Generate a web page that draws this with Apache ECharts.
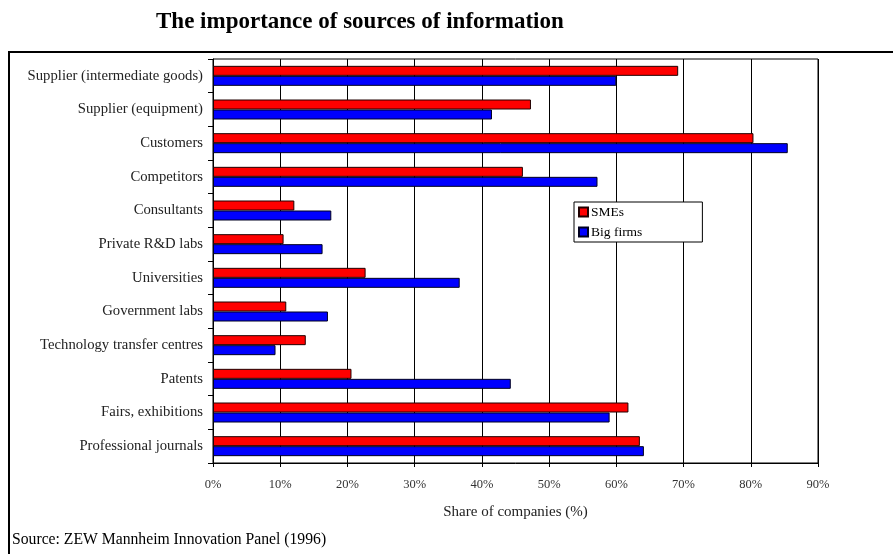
<!DOCTYPE html>
<html>
<head>
<meta charset="utf-8">
<script src="https://cdn.jsdelivr.net/npm/echarts@6/dist/echarts.min.js"></script>
<style>
  html, body { margin: 0; padding: 0; background: #fff; }
  #chart { width: 893px; height: 554px; }
</style>
</head>
<body>
<div id="chart"></div>
<script>
// Sources of information, listed top to bottom
const sources = [
  'Supplier (intermediate goods)',
  'Supplier (equipment)',
  'Customers',
  'Competitors',
  'Consultants',
  'Private R&D labs',
  'Universities',
  'Government labs',
  'Technology transfer centres',
  'Patents',
  'Fairs, exhibitions',
  'Professional journals'
];

// Share of companies (%) rating each source as important
const smes     = [69.2, 47.3, 80.4, 46.1, 12.1, 10.5, 22.7, 10.9, 13.8, 20.6, 61.8, 63.5];
const bigFirms = [60.0, 41.5, 85.5, 57.2, 17.6, 16.3, 36.7, 17.1,  9.3, 44.3, 59.0, 64.1];

const xTicks = { min: 0, max: 90, step: 10 };

const serif = '"Liberation Serif", "DejaVu Serif", serif';

const chart = echarts.init(document.getElementById('chart'), null, { renderer: 'canvas' });

chart.setOption({
  backgroundColor: '#ffffff',
  animation: false,
  title: {
    text: 'The importance of sources of information',
    left: 151,
    top: 6,
    textStyle: { fontFamily: serif, fontSize: 23, fontWeight: 'bold', color: '#000' }
  },
  graphic: [
    {
      type: 'rect',
      shape: { x: 9, y: 52, width: 910, height: 530 },
      style: { fill: 'none', stroke: '#000', lineWidth: 2 },
      silent: true
    },
    {
      type: 'text',
      left: 12,
      top: 532,
      style: {
        text: 'Source: ZEW Mannheim Innovation Panel (1996)',
        font: '15.7px ' + serif,
        fill: '#000'
      }
    }
  ],
  legend: {
    orient: 'vertical',
    left: 574,
    top: 202,
    padding: [3, 60, 3, 4],
    itemGap: 6,
    itemWidth: 9,
    itemHeight: 9,
    icon: 'rect',
    backgroundColor: '#fff',
    borderColor: '#000',
    borderWidth: 1,
    textStyle: { fontFamily: serif, fontSize: 13.5, color: '#000', padding: [0, 0, 0, -2] },
    data: ['SMEs', 'Big firms']
  },
  grid: {
    left: 213,
    right: 75,
    top: 59,
    bottom: 91,
    show: true,
    borderColor: '#000',
    borderWidth: 1,
    containLabel: false
  },
  xAxis: {
    type: 'value',
    min: xTicks.min,
    max: xTicks.max,
    interval: xTicks.step,
    name: 'Share of companies (%)',
    nameLocation: 'middle',
    nameGap: 42,
    nameTextStyle: { fontFamily: serif, fontSize: 15, color: '#222' },
    axisLine: { show: true, lineStyle: { color: '#000', width: 1 } },
    axisTick: { show: true, length: 4, lineStyle: { color: '#000' } },
    axisLabel: {
      formatter: '{value}%',
      fontFamily: serif,
      fontSize: 12.5,
      color: '#333',
      margin: 15
    },
    splitLine: { show: true, lineStyle: { color: '#000', width: 1 } }
  },
  yAxis: {
    type: 'category',
    data: sources,
    inverse: true,
    axisLine: { show: true, lineStyle: { color: '#000', width: 1 } },
    axisTick: { show: true, length: 5, lineStyle: { color: '#000' } },
    axisLabel: { fontFamily: serif, fontSize: 14.7, color: '#222', margin: 10 },
    splitLine: { show: false }
  },
  series: [
    {
      name: 'SMEs',
      type: 'bar',
      data: smes,
      barWidth: 10,
      barGap: '0%',
      itemStyle: { color: '#ff0000', borderColor: '#200000', borderWidth: 1 }
    },
    {
      name: 'Big firms',
      type: 'bar',
      data: bigFirms,
      barWidth: 10,
      barGap: '0%',
      itemStyle: { color: '#0000ff', borderColor: '#000020', borderWidth: 1 }
    }
  ]
});
</script>
</body>
</html>
